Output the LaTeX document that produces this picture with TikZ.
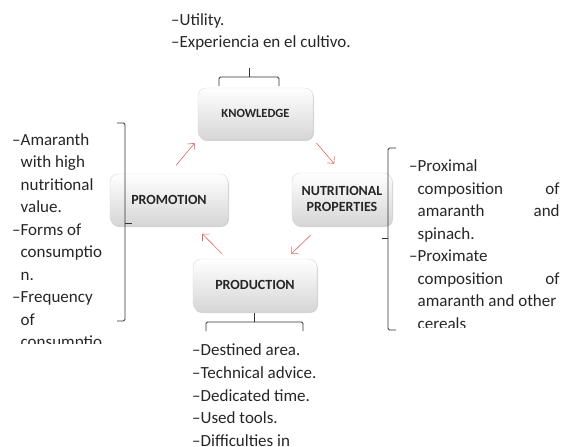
\documentclass[tikz,border=0pt]{standalone}
\usepackage{fontspec}
\setmainfont{Carlito}
\usetikzlibrary{arrows.meta,shadows}

\definecolor{pfeilrot}{RGB}{224,102,94}

\tikzset{
  kasten/.style={rounded corners=8pt, draw=black!15, top color=white,
    bottom color=black!16, drop shadow={opacity=0.35, shadow xshift=1pt,
    shadow yshift=-2pt}, font=\fontsize{14}{16}\selectfont\bfseries,
    text=black!85, align=center, inner sep=0pt},
  pfeil/.style={draw=pfeilrot, line width=0.6pt,
    -{Straight Barb[length=5pt,width=10pt]}},
  klammer/.style={draw=black!80, line width=0.9pt, rounded corners=1.5pt},
  liste/.style={anchor=base west, inner sep=0pt, text=black!85,
    font=\fontsize{17}{22.5}\selectfont}
}

\begin{document}
\begin{tikzpicture}[x=1pt,y=-1pt]

	\useasboundingbox (0,0) rectangle (568,447);

	% Kaesten
	\node[kasten, minimum width=115pt, minimum height=51pt,
	  font=\fontsize{12.5}{14}\selectfont\bfseries] (know) at (255.5,113.5) {KNOWLEDGE};
	\node[kasten, minimum width=118pt, minimum height=51pt] (promo) at (169,199.5) {PROMOTION};
	\node[kasten, minimum width=100pt, minimum height=52pt] (nutri) at (342,199) {NUTRITIONAL\\PROPERTIES};
	\node[kasten, minimum width=124pt, minimum height=52pt] (prod) at (255,285) {PRODUCTION};

	% Pfeile im Kreis
	\draw[pfeil, shorten <=5pt, shorten >=12pt] (know.south east) -- (nutri.north);
	\draw[pfeil, shorten <=14pt, shorten >=7pt] (nutri.231) -- (prod.40);
	\draw[pfeil, shorten <=7pt, shorten >=12pt] (prod.137) -- (promo.314);
	\draw[pfeil, shorten <=11pt, shorten >=5pt] (promo.north) -- (know.south west);

	% Klammern
	\draw[klammer] (219,86) -- (219,77) -- (279,77) -- (279,86);
	\draw[klammer] (249,77) -- (249,68);
	\draw[klammer] (206,331) -- (206,322) -- (303,322) -- (303,331);
	\draw[klammer] (254,322) -- (254,313);
	\draw[klammer] (117,123) -- (125,123) -- (125,321) -- (117,321);
	\draw[klammer] (125,223) -- (132,223);
	\draw[klammer] (396,148) -- (388,148) -- (388,330) -- (396,330);
	\draw[klammer] (388,238) -- (382,238);

	% Texte
	\node[liste] (oben) at (171,25) {\begin{tabular}[t]{@{}l@{}l@{}}
	  \textendash&Utility.\\
	  \textendash&Experiencia en el cultivo.
	\end{tabular}};

	\begin{scope}
	\clip (0,110) rectangle (115,343);
	\node[liste] (links) at (12,145) {\begin{tabular}[t]{@{}l@{}l@{}}
	  \textendash&Amaranth\\
	  &with high\\
	  &nutritional\\
	  &value.\\
	  \textendash&Forms of\\
	  &consumptio\\
	  &n.\\
	  \textendash&Frequency\\
	  &of\\
	  &consumptio
	\end{tabular}};
	\end{scope}

	\begin{scope}
	\clip (400,150) rectangle (568,327);
	\node[liste] (rechts) at (409,171.7) {\begin{tabular}[t]{@{}l@{}l@{}}
	  \textendash&Proximal\\
	  &\makebox[142pt][s]{composition\hfill of}\\
	  &\makebox[142pt][s]{amaranth\hfill and}\\
	  &spinach.\\
	  \textendash&Proximate\\
	  &\makebox[142pt][s]{composition\hfill of}\\
	  &amaranth and other\\
	  &cereals
	\end{tabular}};
	\end{scope}

	\begin{scope}
	\clip (180,335) rectangle (400,447);
	\node[liste, font=\fontsize{17}{22.8}\selectfont] (unten) at (192,355.5) {\begin{tabular}[t]{@{}l@{}l@{}}
	  \textendash&Destined area.\\
	  \textendash&Technical advice.\\
	  \textendash&Dedicated time.\\
	  \textendash&Used tools.\\
	  \textendash&Difficulties in
	\end{tabular}};
	\end{scope}

\end{tikzpicture}
\end{document}
